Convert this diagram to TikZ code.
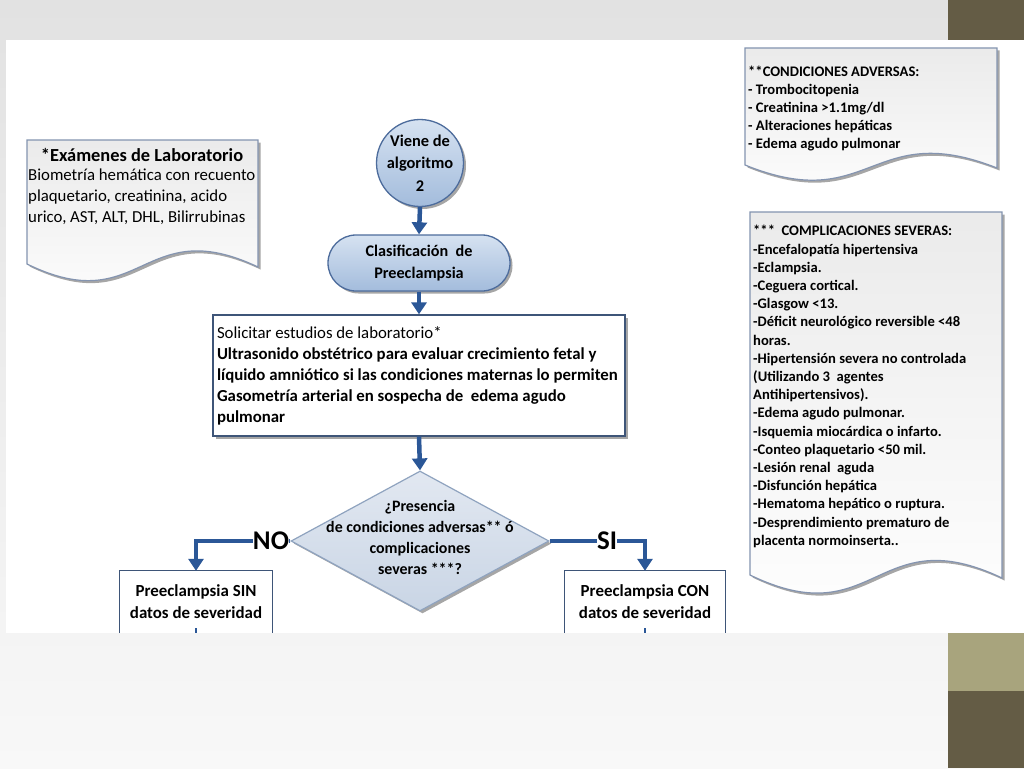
\documentclass[tikz,border=0pt]{standalone}
\usepackage{fontspec}
\setmainfont{Carlito}
\usetikzlibrary{shapes.geometric,shapes.misc,shadows,arrows.meta}
\definecolor{arrowc}{HTML}{2B5797}
\definecolor{olivelight}{HTML}{A8A47D}
\definecolor{olivedark}{HTML}{645C45}
\definecolor{bgtop}{HTML}{E2E2E2}
\definecolor{bgbot}{HTML}{F8F8F8}
\definecolor{docborder}{HTML}{8494B0}
\definecolor{blueA}{HTML}{D6E2F1}
\definecolor{blueB}{HTML}{A3BCDC}
\definecolor{blueedge}{HTML}{4D6C9C}
\definecolor{diaA}{HTML}{E2E8F1}
\definecolor{diaB}{HTML}{C9D5E5}
\definecolor{diaedge}{HTML}{8FA3BF}
\definecolor{boxedge}{HTML}{3E5578}
\begin{document}
\begin{tikzpicture}[x=1pt,y=-1pt,
  softshadow/.style={drop shadow={shadow xshift=2.5pt,shadow yshift=-2.5pt,fill=black,opacity=0.35}},
  docshape/.style={draw=docborder,line width=1.2pt,top color=black!8,bottom color=white,softshadow},
  bluefill/.style={draw=blueedge,line width=1.3pt,top color=blueA,bottom color=blueB,softshadow},
  arr/.style={draw=arrowc,line width=4.5pt,-{Triangle[width=15pt,length=12pt]}},
  flowline/.style={draw=arrowc,line width=4.5pt},
  txt/.style={inner sep=0pt,text=black},
  bigl/.style={txt,font=\bfseries\fontsize{27}{30}\selectfont}
]
\useasboundingbox (0,0) rectangle (1024,768);
% background
\shade[top color=bgtop,bottom color=bgbot] (0,0) rectangle (1024,768);
\fill[white] (6,40) rectangle (1024,633);
\fill[olivedark] (948,0) rectangle (1024,40);
\fill[olivelight] (948,633) rectangle (1024,691);
\fill[olivedark] (948,691) rectangle (1024,768);

% documents
\path[docshape] (27,140) -- (258,140) -- (258,267) .. controls (142,212) and (142,320) .. (27,264) -- cycle;
\node[txt,font=\bfseries\fontsize{18.4}{21}\selectfont] (labt) at (142,155) {*Exámenes de Laboratorio};
\node[txt,anchor=west,align=flush left,font=\fontsize{16.8}{21}\selectfont] (labb) at (28,197)
  {Biometría hemática con recuento\\plaquetario, creatinina, acido\\urico, AST, ALT, DHL, Bilirrubinas};

\path[docshape] (745,48) -- (997,48) -- (997,168) .. controls (871,118) and (871,216) .. (745,165) -- cycle;
\node[txt,anchor=west,align=flush left,font=\bfseries\fontsize{14.6}{18}\selectfont] (adv) at (748,109)
  {**CONDICIONES ADVERSAS:\\- Trombocitopenia\\- Creatinina >1.1mg/dl\\- Alteraciones hepáticas\\- Edema agudo pulmonar};

\path[docshape] (750,212) -- (1002,212) -- (1002,578) .. controls (876,518) and (876,636) .. (750,575) -- cycle;
\node[txt,anchor=west,align=flush left,font=\bfseries\fontsize{14.6}{18.2}\selectfont] (comp) at (753,386.5)
  {*** \ COMPLICACIONES SEVERAS:\\-Encefalopatía hipertensiva\\-Eclampsia.\\-Ceguera cortical.\\-Glasgow <13.\\-Déficit neurológico reversible <48\\horas.\\-Hipertensión severa no controlada\\(Utilizando 3 \ agentes\\Antihipertensivos).\\-Edema agudo pulmonar.\\-Isquemia miocárdica o infarto.\\-Conteo plaquetario <50 mil.\\-Lesión renal \ aguda\\-Disfunción hepática\\-Hematoma hepático o ruptura.\\-Desprendimiento prematuro de\\placenta normoinserta..};

% flowchart
\node[circle,bluefill,minimum size=84pt,inner sep=0pt,align=center,
  font=\bfseries\fontsize{16.4}{22.5}\selectfont] (start) at (420,163) {Viene de\\algoritmo\\2};
\node[rounded rectangle,bluefill,minimum width=182pt,minimum height=56pt,inner sep=0pt,align=center,
  font=\bfseries\fontsize{16.2}{22}\selectfont] (clas) at (419,263) {Clasificación \ de\\Preeclampsia};
\node[draw=boxedge,line width=1.3pt,fill=white,softshadow,minimum width=412pt,minimum height=121pt,
  inner sep=3pt,text width=404pt,align=flush left,font=\bfseries\fontsize{16.8}{21}\selectfont] (sol) at (419,375.5)
  {{\mdseries Solicitar estudios de laboratorio*}\\Ultrasonido obstétrico para evaluar crecimiento fetal y\\líquido amniótico si las condiciones maternas lo permiten\\Gasometría arterial en sospecha de \ edema agudo\\pulmonar};
\node[diamond,draw=diaedge,line width=1.2pt,top color=diaA,bottom color=diaB,softshadow,
  minimum width=258pt,minimum height=140pt,inner sep=0pt] (dia) at (420,541) {};
\node[txt,align=center,font=\bfseries\fontsize{15.9}{21}\selectfont] (diat) at (420,537)
  {¿Presencia\\de condiciones adversas** ó\\complicaciones\\severas ***?};

\node[inner sep=0pt,minimum width=152pt,minimum height=62pt,align=center,
  font=\bfseries\fontsize{16.9}{22}\selectfont] (sin) at (196,602) {Preeclampsia SIN\\datos de severidad};
\draw[boxedge,line width=1.3pt] (sin.south west) |- (sin.north east) -- (sin.south east);
\node[inner sep=0pt,minimum width=160pt,minimum height=62pt,align=center,
  font=\bfseries\fontsize{16.9}{22}\selectfont] (con) at (645,602) {Preeclampsia CON\\datos de severidad};
\draw[boxedge,line width=1.3pt] (con.south west) |- (con.north east) -- (con.south east);
\coordinate (sinstub) at (196,628);
\coordinate (constub) at (645,628);
\draw[arrowc,line width=1.2pt] (sinstub) -- (sin.south);
\draw[arrowc,line width=1.2pt] (constub) -- (con.south);

\node[bigl] (no) at (271,541) {NO};
\node[bigl] (si) at (607,541) {SI};

% connectors
\draw[arr] (start.south) -- (clas.north);
\draw[arr] (clas.south) -- (sol.north);
\draw[arr] (sol.south) -- (dia.north);
\draw[flowline] (dia.west) -- (dia.west -| no.east);
\draw[arr] (no.west) -| (sin.north);
\draw[flowline] (dia.east) -- (dia.east -| si.west);
\draw[arr] (si.east) -| (con.north);
\end{tikzpicture}
\end{document}
